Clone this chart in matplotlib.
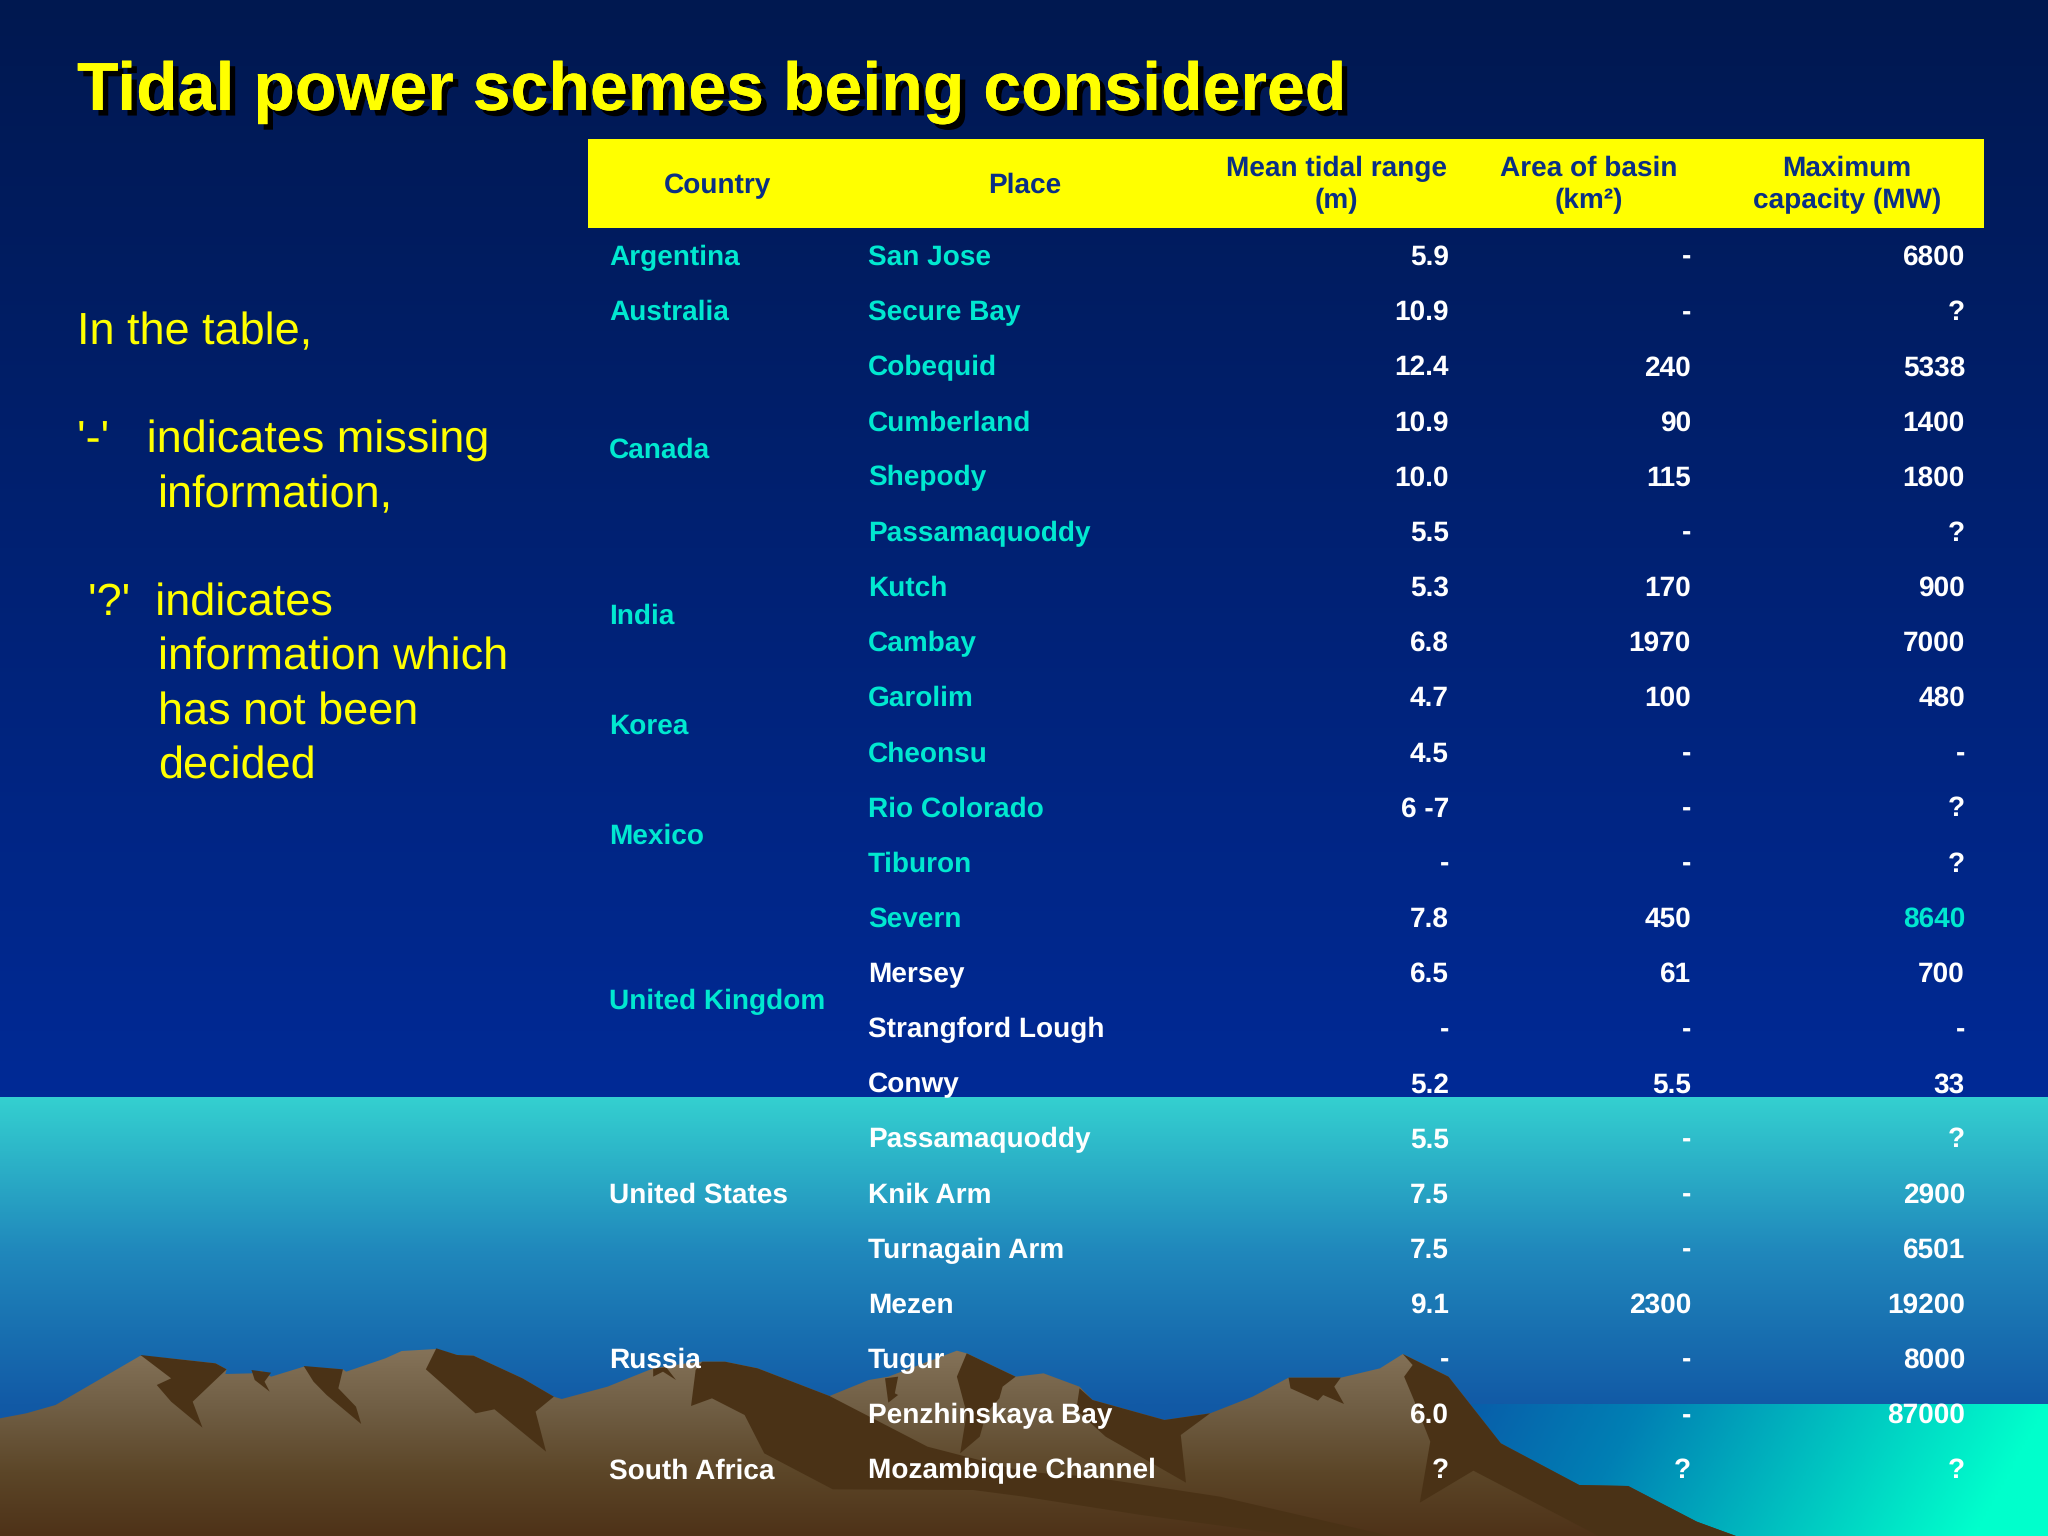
import numpy as np
import matplotlib
matplotlib.use("Agg")
import matplotlib.pyplot as plt
import matplotlib.patheffects as pe
from matplotlib.patches import Polygon, Rectangle
from matplotlib.colors import LinearSegmentedColormap

plt.rcParams["text.hinting"] = "no_hinting"
plt.rcParams["text.hinting_factor"] = 1

# ---------------- TABLE DATA ----------------
headers = ["Country", "Place", "Mean tidal range\n(m)", "Area of basin\n(km²)", "Maximum\ncapacity (MW)"]
places = ["San Jose", "Secure Bay", "Cobequid", "Cumberland", "Shepody", "Passamaquoddy",
          "Kutch", "Cambay", "Garolim", "Cheonsu", "Rio Colorado", "Tiburon", "Severn",
          "Mersey", "Strangford Lough", "Conwy", "Passamaquoddy", "Knik Arm", "Turnagain Arm",
          "Mezen", "Tugur", "Penzhinskaya Bay", "Mozambique Channel"]
tidal_range = ["5.9", "10.9", "12.4", "10.9", "10.0", "5.5", "5.3", "6.8", "4.7", "4.5", "6 -7", "-",
               "7.8", "6.5", "-", "5.2", "5.5", "7.5", "7.5", "9.1", "-", "6.0", "?"]
basin_area = ["-", "-", "240", "90", "115", "-", "170", "1970", "100", "-", "-", "-",
              "450", "61", "-", "5.5", "-", "-", "-", "2300", "-", "-", "?"]
capacity = ["6800", "?", "5338", "1400", "1800", "?", "900", "7000", "480", "-", "?", "?",
            "8640", "700", "-", "33", "?", "2900", "6501", "19200", "8000", "87000", "?"]
# country name, row it is centred on
countries = ["Argentina", "Australia", "Canada", "India", "Korea", "Mexico",
             "United Kingdom", "United States", "Russia", "South Africa"]
country_rows = [0, 1, 3.5, 6.5, 8.5, 10.5, 13.5, 17, 20, 22]
n_cyan_places = 13

CYAN = "#00e8d0"
YELLOW = "#ffff00"
NAVY = "#0a2f85"
TABLE_FONT = "Liberation Sans"
ROW0 = 265  # baseline of first row
ROW_STEP = 55.15

def left(pts):
    return [(x / 1.531, 1280 + y / 3) for x, y in pts]

def right(pts):
    return [(1024 + x / 1.531, 1280 + y / 3) for x, y in pts]

outline = left([(0, 415), (40, 400), (85, 375), (215, 227), (270, 237), (330, 250), (347, 268),
                (345, 282), (385, 280), (400, 272), (415, 290), (465, 260), (525, 268), (530, 275),
                (590, 235), (615, 213), (668, 207), (700, 225), (725, 227), (800, 295), (848, 350),
                (860, 357), (930, 320), (1000, 265), (1050, 250), (1075, 245), (1110, 245),
                (1160, 265), (1270, 348), (1330, 300), (1360, 290), (1465, 212), (1480, 220),
                (1555, 290)]) + right([(30, 280), (85, 320), (105, 360), (215, 420), (285, 400),
                (350, 350), (405, 293), (485, 293), (545, 265), (580, 222), (650, 290), (730, 490),
                (850, 615), (925, 618), (1030, 725), (1090, 768)]) + [(0, 1536)]

dark_left = [
    [(215, 225), (270, 237), (330, 250), (347, 268), (295, 365), (310, 443), (262, 365), (240, 315), (262, 295)],
    [(385, 270), (415, 278), (405, 305), (413, 335), (390, 300)],
    [(465, 258), (525, 268), (518, 325), (545, 380), (553, 432), (500, 345), (480, 305)],
    [(668, 205), (700, 225), (725, 227), (800, 295), (848, 350), (820, 395), (836, 515), (757, 388), (728, 400), (652, 268)],
    [(1000, 265), (1020, 262), (1035, 300), (1015, 275), (1000, 290)],
    [(1075, 245), (1110, 245), (1160, 265), (1270, 348), (1420, 500), (1568, 575), (1568, 650), (1490, 630), (1275, 628), (1170, 520), (1140, 405), (1090, 355), (1058, 378), (1065, 270)],
    [(1355, 295), (1375, 290), (1370, 340), (1375, 345), (1360, 368)],
    [(1480, 220), (1555, 290), (1535, 320), (1530, 355), (1510, 400), (1500, 470), (1470, 520), (1480, 400), (1465, 290)],
]
dark_right = [
    [(0, 575), (0, 650), (180, 705), (420, 768), (560, 768), (300, 650), (100, 590)],
    [(85, 325), (105, 360), (215, 420), (285, 400), (240, 465), (248, 608), (125, 470), (80, 390)],
    [(405, 293), (485, 293), (475, 320), (490, 372), (458, 345), (450, 362), (408, 325)],
    [(580, 222), (650, 290), (730, 490), (850, 615), (925, 618), (1030, 725), (1090, 768), (880, 768), (688, 572), (606, 668), (622, 485), (597, 360), (582, 290), (595, 255)],
]

# ---------------- FIGURE ----------------
fig = plt.figure(figsize=(20.48, 15.36), dpi=100)
ax = fig.add_axes([0, 0, 1, 1])
ax.set_xlim(0, 2048)
ax.set_ylim(1536, 0)
ax.axis("off")

def vgrad(colors, extent, zorder, clip=None):
    cmap = LinearSegmentedColormap.from_list("g", colors)
    im = ax.imshow(np.linspace(0, 1, 256).reshape(-1, 1), cmap=cmap, extent=extent,
                   aspect="auto", zorder=zorder, interpolation="bilinear")
    if clip is not None:
        im.set_clip_path(clip)
    return im

# sky, sea bands
vgrad(["#001850", "#002a96"], (0, 2048, 1097, 0), 1)
vgrad(["#34d0d0", "#2088bc", "#125aa6"], (0, 2048, 1404, 1097), 1)
vgrad(["#125aa6", "#0a4aa0"], (0, 2048, 1536, 1404), 1)

# lower right water goes sideways into bright green-cyan
cmap_water = LinearSegmentedColormap.from_list("w", ["#0a58a8", "#0080b4", "#00c0c0", "#00ffcc"])
xx, yy = np.meshgrid(np.linspace(0, 1, 200), np.linspace(0, 1, 50))
ax.imshow(np.clip(xx + 0.12 * yy, 0, 1), cmap=cmap_water, extent=(1440, 2048, 1536, 1404),
          aspect="auto", zorder=1.5, interpolation="bilinear")

# mountains
mountain = Polygon(outline, closed=True, facecolor="none", edgecolor="none", zorder=2)
ax.add_patch(mountain)
vgrad(["#86745a", "#705e44", "#5c4628", "#4e3218"], (0, 2048, 1536, 1345), 2, clip=mountain)
for pts in dark_left:
    ax.add_patch(Polygon(left(pts), closed=True, facecolor="#4a3216", edgecolor="none", zorder=3))
for pts in dark_right:
    ax.add_patch(Polygon(right(pts), closed=True, facecolor="#4a3216", edgecolor="none", zorder=3))
ax.set_xlim(0, 2048)
ax.set_ylim(1536, 0)

# ---------------- TITLE AND NOTES ----------------
ax.text(77, 110, "Tidal power schemes being considered", color=YELLOW, fontsize=49, fontweight="bold",
        family="Liberation Sans", va="baseline", ha="left", zorder=6,
        path_effects=[pe.withSimplePatchShadow(offset=(4, -4), shadow_rgbFace="black", alpha=1.0), pe.Normal()])

note_lines = [(77, 344, "In the table,"), (77, 452, "'-'   indicates missing"), (158, 507, "information,"),
              (88, 616, "'?'  indicates"), (158, 670, "information which"), (158, 725, "has not been"),
              (158, 779, "decided")]
for x, y, s in note_lines:
    ax.text(x, y, s, color=YELLOW, fontsize=32.7, family="Liberation Sans", va="baseline", ha="left", zorder=6)

# ---------------- TABLE ----------------
ax.add_patch(Rectangle((588, 139), 1396, 89, facecolor=YELLOW, edgecolor="none", zorder=5))
header_x = [718, 1025, 1336, 1589, 1847]
for x, s in zip(header_x, headers):
    ax.text(x, 208 if "\n" in s else 193, s, color=NAVY, fontsize=20.5, fontweight="bold", family=TABLE_FONT,
            ha="center", va="baseline", linespacing=1.3, zorder=6)

def tx(x, row, s, color, ha="left"):
    ax.text(x, ROW0 + row * ROW_STEP, s, color=color, fontsize=20.5, fontweight="bold",
            family=TABLE_FONT, ha=ha, va="baseline", zorder=6)

for name, row in zip(countries, country_rows):
    tx(609, row, name, CYAN if row < 14 else "white")

for i, p in enumerate(places):
    tx(868, i, p, CYAN if (i < n_cyan_places) else "white")
    tx(1449, i, tidal_range[i], "white", "right")
    tx(1691, i, basin_area[i], "white", "right")
    tx(1965, i, capacity[i], CYAN if capacity[i] == "8640" else "white", "right")

fig.savefig("out.png", dpi=100)
plt.close(fig)
